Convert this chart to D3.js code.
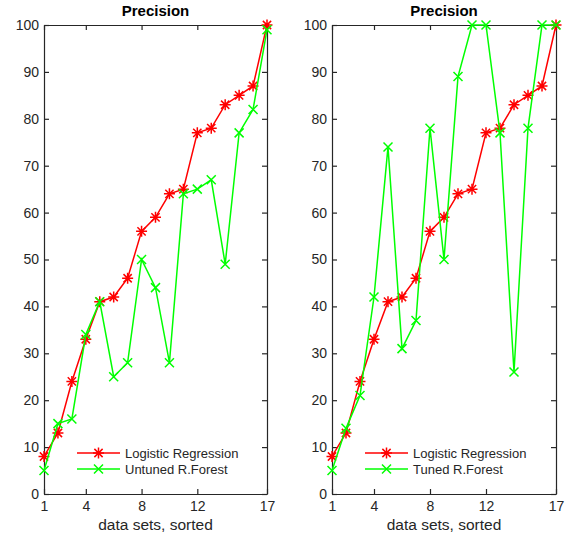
<!DOCTYPE html>
<html>
<head>
<meta charset="utf-8">
<script src="https://cdn.jsdelivr.net/npm/d3@7"></script>
<style>
    body { margin: 0; background: #fff; }
    text { font-family: "Liberation Sans", Arial, Helvetica, sans-serif; }
</style>
</head>
<body>
<div id="chart"></div>
<script>
// data sets 1..17, sorted by logistic regression precision
var dataSets = d3.range(1, 18);
var logistic = [8, 13, 24, 33, 41, 42, 46, 56, 59, 64, 65, 77, 78, 83, 85, 87, 100];
var untunedRF = [5, 15, 16, 34, 41, 25, 28, 50, 44, 28, 64, 65, 67, 49, 77, 82, 99];
var tunedRF = [5, 14, 21, 42, 74, 31, 37, 78, 50, 89, 100, 100, 77, 26, 78, 100, 100];
var xTicks = [1, 4, 8, 12, 17];
var yTicks = d3.range(0, 101, 10);

var panels = [
    { left: 44, right: 267, series: untunedRF, label: "Untuned R.Forest" },
    { left: 332, right: 556, series: tunedRF, label: "Tuned R.Forest" }
];

var svg = d3.select("#chart")
    .append("svg")
    .attr("width", 566)
    .attr("height", 538);

var axisColor = "#262626";

panels.forEach(function (p) {
    drawPanel(p);
});

function drawPanel(p) {
    var top = 25, bottom = 494;

    var x = d3.scaleLinear().domain([1, 17]).range([p.left, p.right]);
    var y = d3.scaleLinear().domain([0, 100]).range([bottom, top]);

    var g = svg.append("g");

    // axes (ticks inside, box all round)
    var ax = [
        g.append("g").attr("transform", "translate(" + p.left + ",0)")
            .call(d3.axisLeft(y).tickValues(yTicks).tickSize(-5).tickSizeOuter(0).tickPadding(5)),
        g.append("g").attr("transform", "translate(" + p.right + ",0)")
            .call(d3.axisRight(y).tickValues(yTicks).tickSize(-5).tickSizeOuter(0).tickFormat("")),
        g.append("g").attr("transform", "translate(0," + bottom + ")")
            .call(d3.axisBottom(x).tickValues(xTicks).tickSize(-5).tickSizeOuter(0).tickPadding(7)),
        g.append("g").attr("transform", "translate(0," + top + ")")
            .call(d3.axisTop(x).tickValues(xTicks).tickSize(-5).tickSizeOuter(0).tickFormat(""))
    ];
    ax.forEach(function (a) {
        a.selectAll("path, line").attr("stroke", axisColor).attr("stroke-width", 1.2);
        a.selectAll("text").attr("fill", axisColor).style("font-size", "14px")
            .style("font-family", '"Liberation Sans", Arial, sans-serif');
    });

    // title
    g.append("text")
        .attr("x", (p.left + p.right) / 2)
        .attr("y", 16)
        .attr("text-anchor", "middle")
        .style("font-size", "15px")
        .style("font-weight", "bold")
        .attr("fill", "#000")
        .text("Precision");

    // x label
    g.append("text")
        .attr("x", (p.left + p.right) / 2)
        .attr("y", 530)
        .attr("text-anchor", "middle")
        .style("font-size", "15.5px")
        .attr("fill", axisColor)
        .text("data sets, sorted");

    var line = d3.line()
        .x(function (d, i) { return x(dataSets[i]); })
        .y(function (d) { return y(d); });

    // Logistic regression (red, asterisk)
    g.append("path")
        .datum(logistic)
        .attr("d", line)
        .attr("fill", "none")
        .attr("stroke", "#ff0000")
        .attr("stroke-width", 1.5);
    logistic.forEach(function (d, i) {
        asterisk(g, x(dataSets[i]), y(d), "#ff0000");
    });

    // Random forest (green, x)
    g.append("path")
        .datum(p.series)
        .attr("d", line)
        .attr("fill", "none")
        .attr("stroke", "#00ff00")
        .attr("stroke-width", 1.5);
    p.series.forEach(function (d, i) {
        cross(g, x(dataSets[i]), y(d), "#00ff00");
    });

    // legend
    var lx = p.left + 33, lw = 43;
    var rows = [
        { y: 453, color: "#ff0000", label: "Logistic Regression", mark: asterisk },
        { y: 469, color: "#00ff00", label: p.label, mark: cross }
    ];
    rows.forEach(function (r) {
        g.append("line")
            .attr("x1", lx).attr("x2", lx + lw)
            .attr("y1", r.y).attr("y2", r.y)
            .attr("stroke", r.color)
            .attr("stroke-width", 1.5);
        r.mark(g, lx + lw / 2, r.y, r.color);
        g.append("text")
            .attr("x", lx + lw + 5)
            .attr("y", r.y + 4.5)
            .style("font-size", "13px")
            .attr("fill", axisColor)
            .text(r.label);
    });
}

function asterisk(g, cx, cy, color) {
    var s = 5.5, d = s * 0.75;
    var path = "M" + (cx - s) + "," + cy + "H" + (cx + s) +
        "M" + cx + "," + (cy - s) + "V" + (cy + s) +
        "M" + (cx - d) + "," + (cy - d) + "L" + (cx + d) + "," + (cy + d) +
        "M" + (cx - d) + "," + (cy + d) + "L" + (cx + d) + "," + (cy - d);
    g.append("path").attr("d", path).attr("stroke", color).attr("stroke-width", 1.5).attr("fill", "none");
}

function cross(g, cx, cy, color) {
    var s = 4.5;
    var path = "M" + (cx - s) + "," + (cy - s) + "L" + (cx + s) + "," + (cy + s) +
        "M" + (cx - s) + "," + (cy + s) + "L" + (cx + s) + "," + (cy - s);
    g.append("path").attr("d", path).attr("stroke", color).attr("stroke-width", 1.5).attr("fill", "none");
}
</script>
</body>
</html>
